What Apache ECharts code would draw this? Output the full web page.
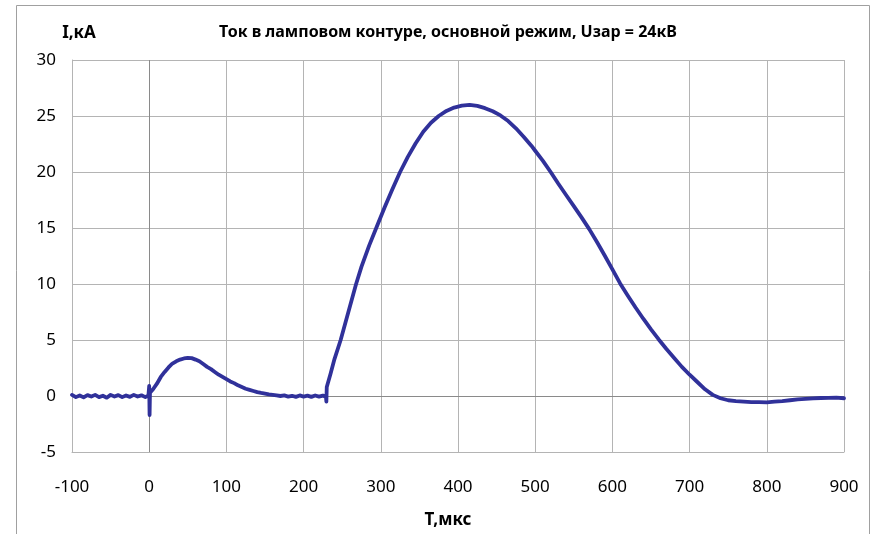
<!DOCTYPE html>
<html>
<head>
<meta charset="utf-8">
<script src="https://cdn.jsdelivr.net/npm/echarts@6/dist/echarts.min.js"></script>
<style>
html,body{margin:0;padding:0;background:#fff;}
#chart{width:876px;height:534px;}
</style>
</head>
<body>
<div id="chart"></div>
<script>
// ---- Data ----
const titleText = 'Ток в ламповом контуре, основной режим, Uзар = 24кВ';
const yAxisName = 'I,кА';
const xAxisName = 'T,мкс';
const xTicks = [-100, 0, 100, 200, 300, 400, 500, 600, 700, 800, 900];
const yTicks = [-5, 0, 5, 10, 15, 20, 25, 30];

// time, µs
const tUs = [
  -100, -95, -90, -85, -80, -75, -70, -65, -60, -55, -50, -45, -40, -35, -30, -25, -20, -15, -10, -5, -1,
  0, 0.5, 1, 5, 10, 15, 20, 25, 30, 35, 40, 45, 50, 55, 60, 65, 70, 75, 80, 85, 90, 95, 100,
  105, 110, 115, 120, 125, 130, 135, 140, 145, 150, 155, 160, 165, 170, 175, 180, 185, 190, 195, 200,
  205, 210, 215, 220, 225, 229, 229.5, 230, 235, 240, 248, 258, 268, 275, 285, 295, 305, 315, 325,
  335, 345, 355, 365, 375, 385, 395, 405, 415, 425, 435, 445, 455, 465, 475, 485, 495, 500,
  510, 520, 530, 540, 550, 560, 570, 580, 590, 600, 610, 620, 630, 640, 650, 660, 670, 680, 690, 700,
  710, 720, 730, 740, 750, 760, 770, 780, 790, 800, 810, 820, 830, 840, 850, 860, 870, 880, 890, 900
];
// current, kA
const iKA = [
  0.10, -0.10, 0.05, -0.12, 0.08, -0.05, 0.10, -0.10, 0.02, -0.15, 0.10, -0.05, 0.08, -0.10, 0.05, -0.08, 0.10, -0.05, 0.06, -0.10, 0.05,
  0.90, -1.70, 0.30, 0.60, 1.10, 1.70, 2.15, 2.55, 2.90, 3.10, 3.25, 3.35, 3.40, 3.38, 3.25, 3.10, 2.85, 2.60, 2.40, 2.15, 1.90, 1.70, 1.50,
  1.30, 1.15, 0.95, 0.80, 0.65, 0.55, 0.45, 0.35, 0.28, 0.22, 0.15, 0.10, 0.05, 0.00, 0.05, -0.05, 0.02, -0.08, 0.05, -0.05,
  0.03, -0.08, 0.05, -0.06, 0.04, -0.10, -0.50, 0.80, 2.00, 3.30, 5.00, 7.50, 10.00, 11.55, 13.45, 15.15, 16.85, 18.45, 20.00,
  21.35, 22.55, 23.60, 24.40, 25.00, 25.45, 25.75, 25.92, 26.00, 25.90, 25.70, 25.42, 25.05, 24.55, 23.90, 23.15, 22.35, 21.90,
  21.00, 20.00, 18.95, 17.95, 16.95, 15.95, 14.90, 13.75, 12.55, 11.30, 10.05, 8.95, 7.90, 6.90, 5.95, 5.05, 4.20, 3.40, 2.60, 1.90,
  1.25, 0.60, 0.10, -0.20, -0.38, -0.45, -0.50, -0.55, -0.55, -0.57, -0.50, -0.45, -0.38, -0.30, -0.25, -0.22, -0.18, -0.17, -0.15, -0.20
];

const seriesData = tUs.map((t, k) => [t, iKA[k]]);

const chart = echarts.init(document.getElementById('chart'), null, {renderer: 'canvas'});
const labelFont = "'Noto Sans', sans-serif";
const option = {
  animation: false,
  backgroundColor: '#ffffff',
  grid: {left: 72, right: 32, top: 60, bottom: 82, containLabel: false},
  xAxis: {
    type: 'value',
    min: xTicks[0], max: xTicks[xTicks.length - 1], interval: 100,
    axisLine: {show: true, onZero: false, lineStyle: {color: '#b4b4b4'}},
    axisTick: {show: false},
    axisLabel: {color: '#000', fontSize: 17, fontFamily: labelFont, margin: 27},
    splitLine: {show: true, lineStyle: {color: '#b4b4b4', width: 1}}
  },
  yAxis: {
    type: 'value',
    min: yTicks[0], max: yTicks[yTicks.length - 1], interval: 5,
    axisLine: {show: true, onZero: false, lineStyle: {color: '#b4b4b4'}},
    axisTick: {show: false},
    axisLabel: {color: '#000', fontSize: 17, fontFamily: labelFont, margin: 16},
    splitLine: {show: true, lineStyle: {color: '#b4b4b4', width: 1}}
  },
  series: [{
    type: 'line',
    data: seriesData,
    showSymbol: false,
    symbol: 'none',
    sampling: 'none',
    lineStyle: {color: '#30319a', width: 3.8, join: 'round', cap: 'round'},
    z: 5,
    markLine: {
      silent: true,
      symbol: 'none',
      label: {show: false},
      lineStyle: {color: '#8a8a8a', width: 1, type: 'solid'},
      data: [{xAxis: 0}, {yAxis: 0}],
      z: 1
    }
  }],
  graphic: [
    {type: 'rect', shape: {x: 16.5, y: 5.5, width: 853, height: 540},
     style: {fill: 'none', stroke: '#a0a0a0', lineWidth: 1}, z: -1},
    {type: 'text', x: 448, y: 32,
     style: {text: titleText, fill: '#000', font: "bold 16px 'Noto Sans', sans-serif",
             textAlign: 'center', textVerticalAlign: 'middle'}},
    {type: 'text', x: 79, y: 33,
     style: {text: yAxisName, fill: '#000', font: "bold 17px 'Noto Sans', sans-serif",
             textAlign: 'center', textVerticalAlign: 'middle'}},
    {type: 'text', x: 448, y: 520,
     style: {text: xAxisName, fill: '#000', font: "bold 17px 'Noto Sans', sans-serif",
             textAlign: 'center', textVerticalAlign: 'middle'}}
  ]
};
chart.setOption(option);
</script>
</body>
</html>
